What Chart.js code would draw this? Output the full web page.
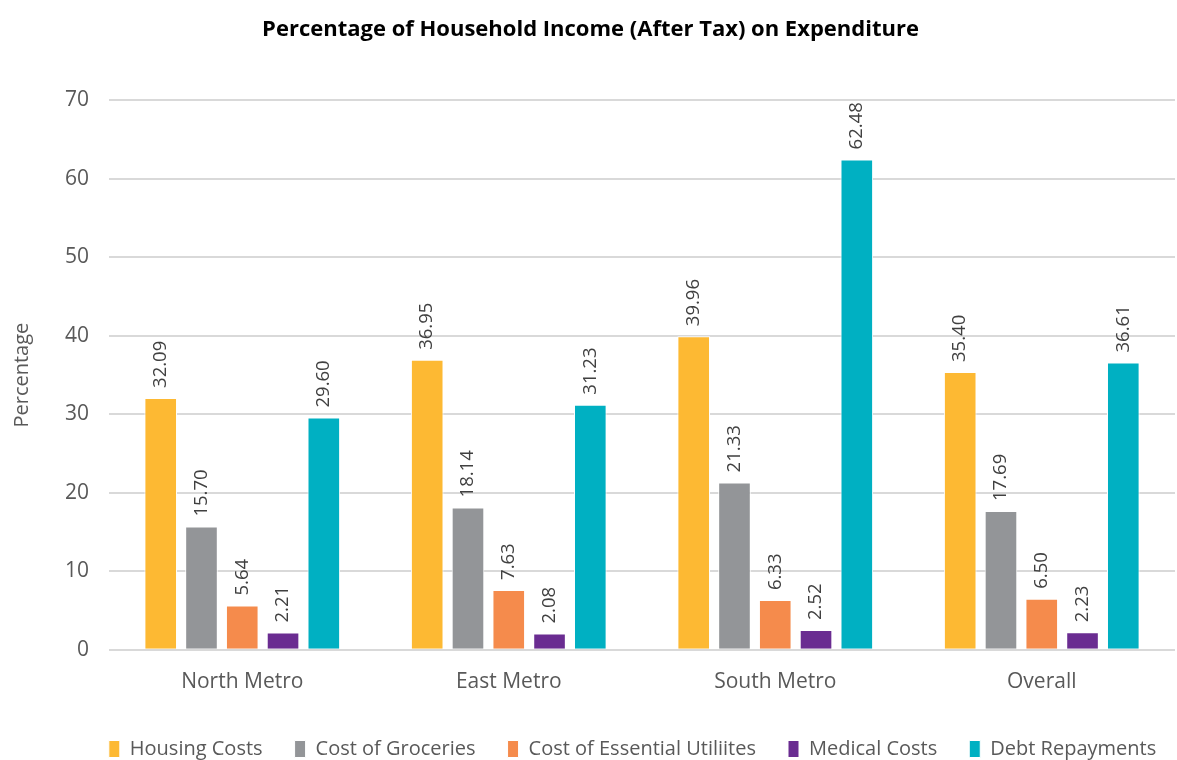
<!DOCTYPE html>
<html lang="en">
<head>
    <meta charset="UTF-8">
    <title>Percentage of Household Income (After Tax) on Expenditure</title>
    <script src="https://cdn.jsdelivr.net/npm/chart.js"></script>
    <style>
        html, body { margin: 0; padding: 0; background: #fff; }
        #wrap { width: 1177px; height: 760px; position: relative; }
    </style>
</head>
<body>
    <div id="wrap">
        <canvas id="barChart"></canvas>
    </div>

    <script>
        var regions = ['North Metro', 'East Metro', 'South Metro', 'Overall'];
        var housing = [32.09, 36.95, 39.96, 35.40];
        var groceries = [15.70, 18.14, 21.33, 17.69];
        var utilities = [5.64, 7.63, 6.33, 6.50];
        var medical = [2.21, 2.08, 2.52, 2.23];
        var debt = [29.60, 31.23, 62.48, 36.61];
        var yTicks = [0, 10, 20, 30, 40, 50, 60, 70];

        var FONT = "'Open Sans', 'Noto Sans', sans-serif";

        // rotated value labels sitting above each bar
        var barLabels = {
            id: 'barLabels',
            afterDatasetsDraw: function (chart) {
                var ctx = chart.ctx;
                ctx.save();
                ctx.font = '18.5px ' + FONT;
                ctx.fillStyle = '#404040';
                ctx.textAlign = 'left';
                ctx.textBaseline = 'middle';
                chart.data.datasets.forEach(function (ds, i) {
                    chart.getDatasetMeta(i).data.forEach(function (bar, j) {
                        ctx.save();
                        ctx.translate(bar.x, bar.y - 10);
                        ctx.rotate(-Math.PI / 2);
                        ctx.fillText(ds.data[j].toFixed(2), 0, 0);
                        ctx.restore();
                    });
                });
                ctx.restore();
            }
        };

        // the legend in the original sits a bit right of centre
        var legendShift = {
            id: 'legendShift',
            afterLayout: function (chart) {
                if (chart.legend) {
                    chart.legend.left += 42;
                    chart.legend.right += 42;
                }
            }
        };

        function series(label, data, color) {
            return {
                label: label,
                data: data,
                backgroundColor: color,
                borderColor: '#ffffff',
                borderWidth: 1,
                categoryPercentage: 0.765,
                barPercentage: 0.8
            };
        }

        new Chart(document.getElementById('barChart'), {
            type: 'bar',
            data: {
                labels: regions,
                datasets: [
                    series('Housing Costs', housing, '#FDB933'),
                    series('Cost of Groceries', groceries, '#939598'),
                    series('Cost of Essential Utiliites', utilities, '#F58B4C'),
                    series('Medical Costs', medical, '#6A2C91'),
                    series('Debt Repayments', debt, '#00B0C2')
                ]
            },
            options: {
                responsive: true,
                maintainAspectRatio: false,
                animation: false,
                layout: { padding: { left: 6, right: 2, top: 8, bottom: -9 } },
                plugins: {
                    title: {
                        display: true,
                        text: 'Percentage of Household Income (After Tax) on Expenditure',
                        color: '#000',
                        font: { family: FONT, size: 22, weight: 'bold' },
                        padding: { top: 9, bottom: 57 }
                    },
                    legend: {
                        position: 'bottom',
                        labels: {
                            color: '#595959',
                            font: { family: FONT, size: 20 },
                            boxWidth: 11,
                            boxHeight: 17,
                            padding: 32
                        }
                    },
                    tooltip: { enabled: false }
                },
                scales: {
                    x: {
                        grid: { display: false },
                        border: { display: false },
                        ticks: { color: '#595959', font: { family: FONT, size: 21 }, padding: 12 }
                    },
                    y: {
                        min: 0,
                        max: 70,
                        afterBuildTicks: function (axis) {
                            axis.ticks = yTicks.map(function (v) { return { value: v }; });
                        },
                        grid: { color: '#d9d9d9', lineWidth: 2, drawTicks: false },
                        border: { display: false },
                        ticks: { color: '#595959', font: { family: FONT, size: 21 }, padding: 20 },
                        title: {
                            display: true,
                            text: 'Percentage',
                            color: '#595959',
                            font: { family: FONT, size: 20 },
                            padding: { bottom: 11 }
                        }
                    }
                }
            },
            plugins: [barLabels, legendShift]
        });
    </script>
</body>
</html>
